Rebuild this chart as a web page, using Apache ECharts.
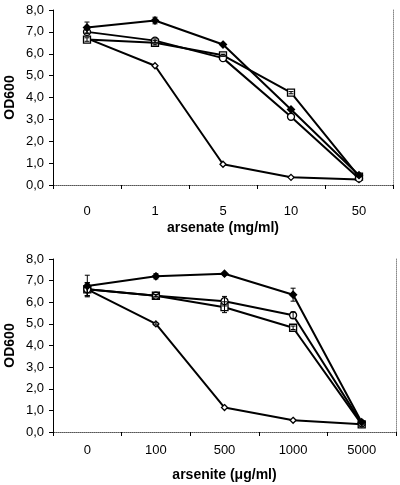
<!DOCTYPE html>
<html><head><meta charset="utf-8">
<script src="https://cdn.jsdelivr.net/npm/echarts@6/dist/echarts.min.js"></script>
<style>html,body{margin:0;padding:0;background:#fff}#c{width:400px;height:485px}</style>
</head><body><div id="c"></div>
<script>
// Top panel: arsenate
const catsTop = ['0', '1', '5', '10', '50'];
const topA = [7.2, 7.52, 6.42, 3.45, 0.45];   // filled diamond
const topB = [7.0, 6.6, 5.8, 3.12, 0.3];      // open circle
const topC = [6.65, 6.5, 5.93, 4.22, 0.38];   // open square
const topD = [6.7, 5.45, 0.95, 0.35, 0.25];   // small open diamond
const errTopA = [0.25, 0.15, 0, 0, 0];
const errTopB = [0.08, 0.08, 0, 0, 0];
const errTopC = [0.08, 0.1, 0.05, 0.05, 0];
// Bottom panel: arsenite
const catsBot = ['0', '100', '500', '1000', '5000'];
const botA = [6.75, 7.2, 7.32, 6.35, 0.45];
const botB = [6.6, 6.3, 6.05, 5.4, 0.4];
const botC = [6.6, 6.3, 5.77, 4.82, 0.35];
const botD = [6.6, 5.0, 1.13, 0.54, 0.36];
const errBotA = [0.5, 0.12, 0.05, 0.3, 0];
const errBotB = [0.3, 0.05, 0.22, 0.15, 0];
const errBotC = [0.3, 0.05, 0.25, 0.08, 0];
const errBotD = [0.3, 0.05, 0, 0, 0];
const yTicks = [0, 1, 2, 3, 4, 5, 6, 7, 8];

const FONT = 'Liberation Sans, Arial, sans-serif';
const chart = echarts.init(document.getElementById('c'));

function xMain(data, gi, name, margin, nameGap) {
  return {
    type: 'category', gridIndex: gi, data: data, boundaryGap: true,
    axisLine: {lineStyle: {color: '#000', width: 1}},
    axisTick: {show: true, alignWithLabel: false, length: 4, lineStyle: {color: '#000'}},
    axisLabel: {color: '#000', fontSize: 13, fontFamily: FONT, margin: margin},
    name: name, nameLocation: 'middle', nameGap: nameGap, nameMoveOverlap: false,
    nameTextStyle: {color: '#000', fontSize: 14, fontWeight: 'bold', fontFamily: FONT}
  };
}
function xBorder(data, gi) {
  return {
    type: 'category', gridIndex: gi, data: data, position: 'top', boundaryGap: true,
    axisLine: {lineStyle: {color: '#888', type: 'dotted', width: 1}},
    axisTick: {show: false}, axisLabel: {show: false}
  };
}
function yMain(gi) {
  return {
    type: 'value', gridIndex: gi, min: 0, max: 8, interval: 1,
    axisLine: {show: true, lineStyle: {color: '#000'}},
    axisTick: {show: true, length: 4, lineStyle: {color: '#000'}},
    splitLine: {show: false},
    axisLabel: {color: '#000', fontSize: 13, fontFamily: FONT, margin: 9,
      formatter: v => yTicks.includes(v) ? v.toFixed(1).replace('.', ',') : ''},
    name: 'OD600', nameLocation: 'middle', nameGap: 36, nameMoveOverlap: false,
    nameTextStyle: {color: '#000', fontSize: 14, fontWeight: 'bold', fontFamily: FONT}
  };
}
function yBorder(gi) {
  return {
    type: 'value', gridIndex: gi, min: 0, max: 8, interval: 1, position: 'right',
    axisLine: {show: true, lineStyle: {color: '#888', type: 'dotted'}},
    axisTick: {show: false}, axisLabel: {show: false}, splitLine: {show: false}
  };
}
function line(data, xi, yi, symbol, size, filled) {
  return {
    type: 'line', xAxisIndex: xi, yAxisIndex: yi, data: data,
    symbol: symbol, symbolSize: size, showAllSymbol: true,
    lineStyle: {color: '#000', width: 2},
    itemStyle: {color: filled ? '#000' : '#fff', borderColor: '#000', borderWidth: 1.3},
    z: 3, animation: false
  };
}
function errs(vals, err, xi, yi) {
  const d = vals.map((v, i) => [i, v, err[i]]).filter(r => r[2] > 0);
  return {
    type: 'custom', xAxisIndex: xi, yAxisIndex: yi, data: d, z: 4, animation: false,
    renderItem: function (params, api) {
      const x = api.value(0), y = api.value(1), e = api.value(2);
      const hi = api.coord([x, y + e]);
      const lo = api.coord([x, y - e]);
      const w = 2.5;
      const st = {stroke: '#000', lineWidth: 1};
      return {type: 'group', children: [
        {type: 'line', shape: {x1: hi[0], y1: hi[1], x2: lo[0], y2: lo[1]}, style: st},
        {type: 'line', shape: {x1: hi[0] - w, y1: hi[1], x2: hi[0] + w, y2: hi[1]}, style: st},
        {type: 'line', shape: {x1: lo[0] - w, y1: lo[1], x2: lo[0] + w, y2: lo[1]}, style: st}
      ]};
    }
  };
}

chart.setOption({
  backgroundColor: '#fff',
  animation: false,
  grid: [
    {left: 53, right: 7, top: 10, height: 175, containLabel: false, outerBoundsMode: 'none'},
    {left: 53, right: 4, top: 259, height: 173, containLabel: false, outerBoundsMode: 'none'}
  ],
  xAxis: [
    xMain(catsTop, 0, 'arsenate (mg/ml)', 20, 36),
    xBorder(catsTop, 0),
    xMain(catsBot, 1, 'arsenite (μg/ml)', 12, 36),
    xBorder(catsBot, 1)
  ],
  yAxis: [yMain(0), yBorder(0), yMain(1), yBorder(1)],
  series: [
    line(topD, 0, 0, 'diamond', 6, false),
    line(topC, 0, 0, 'rect', 7, false),
    line(topB, 0, 0, 'circle', 7, false),
    line(topA, 0, 0, 'diamond', 7, true),
    errs(topA, errTopA, 0, 0),
    errs(topB, errTopB, 0, 0),
    errs(topC, errTopC, 0, 0),
    line(botD, 2, 2, 'diamond', 6, false),
    line(botC, 2, 2, 'rect', 7, false),
    line(botB, 2, 2, 'circle', 7, false),
    line(botA, 2, 2, 'diamond', 7, true),
    errs(botA, errBotA, 2, 2),
    errs(botB, errBotB, 2, 2),
    errs(botC, errBotC, 2, 2),
    errs(botD, errBotD, 2, 2)
  ]
});
</script>
</body></html>
